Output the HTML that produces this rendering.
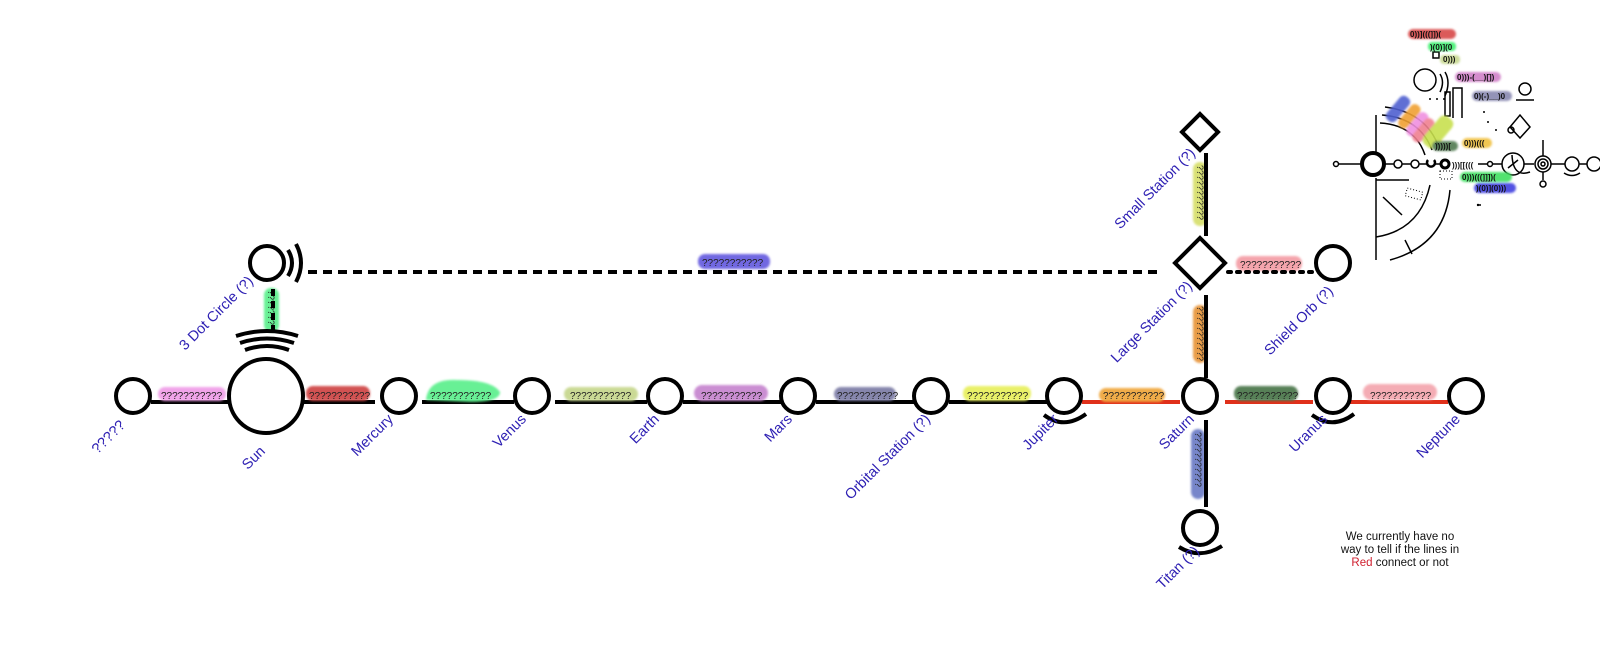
<!DOCTYPE html>
<html><head><meta charset="utf-8"><style>
html,body{margin:0;padding:0;background:#fff;}
svg{display:block;}
.lb{font-family:"Liberation Sans",sans-serif;font-size:14.5px;fill:#2d1fb3;}
.q{font-family:"Liberation Sans",sans-serif;font-size:10px;fill:#222;}
.g{font-family:"Liberation Sans",sans-serif;font-size:8px;fill:#111;font-weight:bold;}
</style></head><body>
<svg width="1600" height="660" viewBox="0 0 1600 660" xmlns="http://www.w3.org/2000/svg">
<defs><filter id="bl"><feGaussianBlur stdDeviation="1"/></filter></defs>
<g fill="none" stroke="#000" stroke-width="4" stroke-linecap="butt">
<line x1="151" y1="402" x2="229" y2="402"/>
<line x1="303" y1="402" x2="375" y2="402"/>
<line x1="422" y1="402" x2="514" y2="402"/>
<line x1="555" y1="402" x2="647" y2="402"/>
<line x1="683" y1="402" x2="781" y2="402"/>
<line x1="816" y1="402" x2="914" y2="402"/>
<line x1="949" y1="402" x2="1047" y2="402"/>
</g>
<g fill="none" stroke="#e0301a" stroke-width="4">
<line x1="1082" y1="402" x2="1180" y2="402"/>
<line x1="1225" y1="402" x2="1313" y2="402"/>
<line x1="1350" y1="402" x2="1448" y2="402"/>
</g>
<g filter="url(#bl)" opacity="0.95">
<rect x="158" y="387" width="68" height="14" rx="7" fill="#f0a0e8"/>
<rect x="306" y="386" width="64" height="15" rx="7" fill="#d04848"/>
<path d="M426 400 Q428 378 458 380 Q492 380 500 392 Q500 402 470 402 Z" fill="#60f090"/>
<rect x="564" y="387" width="74" height="14" rx="7" fill="#c8d890"/>
<rect x="694" y="385" width="74" height="16" rx="8" fill="#c888d0"/>
<rect x="834" y="387" width="62" height="14" rx="7" fill="#8080a8"/>
<rect x="963" y="386" width="68" height="15" rx="7" fill="#e8f060"/>
<rect x="1099" y="388" width="66" height="14" rx="7" fill="#f0a840"/>
<rect x="1234" y="386" width="64" height="15" rx="7" fill="#507a50"/>
<rect x="1363" y="384" width="74" height="16" rx="8" fill="#f4a8b0"/>
<rect x="698" y="254" width="72" height="15" rx="7" fill="#6a60e0"/>
<rect x="1236" y="256" width="66" height="15" rx="7" fill="#f4a0a8"/>
<rect x="264" y="288" width="15" height="44" rx="7" fill="#60f090"/>
<rect x="1193" y="162" width="14" height="64" rx="7" fill="#d8e070"/>
<rect x="1193" y="305" width="14" height="58" rx="7" fill="#e89840"/>
<rect x="1191" y="429" width="14" height="70" rx="7" fill="#7080c8"/>
</g>
<g class="q">
<text x="161" y="399">???????????</text>
<text x="309" y="399">???????????</text>
<text x="430" y="399">???????????</text>
<text x="570" y="399">???????????</text>
<text x="701" y="399">???????????</text>
<text x="837" y="399">???????????</text>
<text x="967" y="399">???????????</text>
<text x="1103" y="399">???????????</text>
<text x="1237" y="399">???????????</text>
<text x="1370" y="399">???????????</text>
<text x="702" y="266">???????????</text>
<text x="1240" y="268">???????????</text>
<text transform="translate(268,290) rotate(90)" font-size="9">???????</text>
<text transform="translate(1197,165) rotate(90)" font-size="9">???????????</text>
<text transform="translate(1197,306) rotate(90)" font-size="9">???????????</text>
<text transform="translate(1195,432) rotate(90)" font-size="9">???????????</text>
</g>
<g fill="#fff" stroke="#000" stroke-width="4">
<circle cx="133" cy="396" r="17"/>
<circle cx="266" cy="396" r="37"/>
<circle cx="399" cy="396" r="17"/>
<circle cx="532" cy="396" r="17"/>
<circle cx="665" cy="396" r="17"/>
<circle cx="798" cy="396" r="17"/>
<circle cx="931" cy="396" r="17"/>
<circle cx="1064" cy="396" r="17"/>
<circle cx="1200" cy="396" r="17"/>
<circle cx="1333" cy="396" r="17"/>
<circle cx="1466" cy="396" r="17"/>
<circle cx="267" cy="263" r="17"/>
<circle cx="1333" cy="263" r="17"/>
<circle cx="1200" cy="528" r="17"/>
<polygon points="1200,238 1225,263 1200,288 1175,263"/>
<polygon points="1200,114 1218,132 1200,150 1182,132"/>
</g>
<g fill="none" stroke="#000" stroke-width="4">
<path d="M1044 415 Q1064 430 1086 414"/>
<path d="M1312 415 Q1333 430 1354 414"/>
<path d="M1179 547 Q1200 560 1222 546"/>
<path d="M288 250 Q296 263 288 276"/>
<path d="M296 244 Q306 263 296 282"/>
<path d="M236 336 Q267 326 298 336"/>
<path d="M240 343 Q267 334 294 343"/>
<path d="M245 350 Q267 342 289 350"/>
<line x1="1206" y1="153" x2="1206" y2="236"/>
<line x1="1206" y1="295" x2="1206" y2="378"/>
<line x1="1206" y1="420" x2="1206" y2="507"/>
<line x1="308" y1="272" x2="1162" y2="272" stroke-dasharray="9,6"/>
<line x1="273" y1="289" x2="273" y2="331" stroke-dasharray="7,5"/>
<line x1="1228" y1="272" x2="1313" y2="272" stroke-dasharray="3,6" stroke-linecap="round"/>
</g>
<g class="lb" text-anchor="end">
<text transform="translate(126,426) rotate(-45)">?????</text>
<text transform="translate(266,452) rotate(-45)">Sun</text>
<text transform="translate(394,420) rotate(-45)">Mercury</text>
<text transform="translate(527,420) rotate(-45)">Venus</text>
<text transform="translate(660,420) rotate(-45)">Earth</text>
<text transform="translate(793,420) rotate(-45)">Mars</text>
<text transform="translate(931,420) rotate(-45)">Orbital Station (?)</text>
<text transform="translate(1059,420) rotate(-45)">Jupiter</text>
<text transform="translate(1195,420) rotate(-45)">Saturn</text>
<text transform="translate(1328,420) rotate(-45)">Uranus</text>
<text transform="translate(1461,420) rotate(-45)">Neptune</text>
<text transform="translate(254,282) rotate(-45)">3 Dot Circle (?)</text>
<text transform="translate(1196,154) rotate(-45)">Small Station (?)</text>
<text transform="translate(1193,287) rotate(-45)">Large Station (?)</text>
<text transform="translate(1334,292) rotate(-45)">Shield Orb (?)</text>
<text transform="translate(1200,552) rotate(-45)">Titan (?)</text>
</g>
<g font-family="Liberation Sans, sans-serif" font-size="11.5" text-anchor="middle" fill="#111">
<text x="1400" y="540">We currently have no</text>
<text x="1400" y="553">way to tell if the lines in</text>
<text x="1400" y="566"><tspan fill="#d02030">Red</tspan> connect or not</text>
</g>
<g fill="none" stroke="#000" stroke-width="1.5">
<line x1="1339" y1="164" x2="1361" y2="164"/>
<circle cx="1336" cy="164" r="2.5"/>
<circle cx="1373" cy="164" r="11" stroke-width="4"/>
<line x1="1385" y1="164" x2="1394" y2="164"/>
<circle cx="1398" cy="164" r="4"/>
<line x1="1402" y1="164" x2="1411" y2="164"/>
<circle cx="1415" cy="164" r="4"/>
<line x1="1419" y1="164" x2="1427" y2="164"/>
<path d="M1428 160 a4 4 0 1 0 6 0" stroke-width="2.5"/>
<line x1="1435" y1="164" x2="1441" y2="164"/>
<circle cx="1445" cy="164" r="4" stroke-width="3"/>
<line x1="1478" y1="164" x2="1487" y2="164"/>
<circle cx="1490" cy="164" r="2.5"/>
<line x1="1493" y1="164" x2="1502" y2="164"/>
<circle cx="1513" cy="164" r="11"/>
<line x1="1508" y1="168" x2="1518" y2="160"/>
<line x1="1524" y1="164" x2="1534" y2="164"/>
<circle cx="1543" cy="164" r="8"/>
<circle cx="1543" cy="164" r="5"/>
<circle cx="1543" cy="164" r="2"/>
<line x1="1551" y1="164" x2="1565" y2="164"/>
<circle cx="1572" cy="164" r="7"/>
<path d="M1564 173 Q1572 178 1580 173"/>
<line x1="1579" y1="164" x2="1587" y2="164"/>
<circle cx="1594" cy="164" r="7"/>
<line x1="1543" y1="172" x2="1543" y2="180"/>
<circle cx="1543" cy="184" r="3"/>
<line x1="1543" y1="140" x2="1543" y2="156"/>
<line x1="1376" y1="115" x2="1376" y2="152"/>
<line x1="1376" y1="178" x2="1376" y2="260"/>
<path d="M1376 180 L1409 180"/>
<path d="M1376 237 Q1420 230 1430 185"/>
<path d="M1390 260 Q1445 245 1450 190"/>
<line x1="1383" y1="197" x2="1402" y2="215"/>
<line x1="1405" y1="240" x2="1412" y2="254"/>
<path d="M1380 123 Q1415 125 1425 155"/>
<path d="M1382 115 Q1420 118 1432 150"/>
<path d="M1385 107 Q1425 112 1438 145"/>
<circle cx="1425" cy="80" r="11"/>
<rect x="1433" y="52" width="6" height="6"/>
<path d="M1440 74 Q1445 82 1440 92"/>
<path d="M1445 72 Q1451 82 1445 96"/>
<rect x="1445" y="92" width="5" height="24"/>
<path d="M1453 118 L1453 88 L1462 88 L1462 118"/>
<circle cx="1525" cy="89" r="6"/>
<line x1="1516" y1="100" x2="1534" y2="100"/>
<path d="M1510 127 L1520 115 L1530 127 L1520 138 Z"/>
<circle cx="1511" cy="130" r="3"/>
<path d="M1512 155 Q1513 178 1530 172"/>
</g>
<g filter="url(#bl)" opacity="0.9">
<rect x="1408" y="29" width="48" height="10" rx="5" fill="#d84848"/>
<rect x="1428" y="42" width="28" height="9" rx="4" fill="#40f070"/>
<rect x="1440" y="55" width="20" height="9" rx="4" fill="#c8d890"/>
<rect x="1455" y="72" width="46" height="10" rx="5" fill="#d080c8"/>
<rect x="1472" y="91" width="40" height="10" rx="5" fill="#8888b0"/>
<rect x="1392" y="94" width="12" height="30" rx="5" fill="#5060d0" transform="rotate(40 1398 109)"/>
<rect x="1404" y="102" width="11" height="28" rx="5" fill="#f0a030" transform="rotate(40 1409 116)"/>
<rect x="1412" y="110" width="11" height="28" rx="5" fill="#f090e0" transform="rotate(40 1417 124)"/>
<rect x="1418" y="116" width="11" height="28" rx="5" fill="#f08090" transform="rotate(40 1423 130)"/>
<rect x="1430" y="114" width="16" height="36" rx="6" fill="#c8e050" transform="rotate(40 1438 132)"/>
<rect x="1432" y="141" width="26" height="10" rx="5" fill="#507a50"/>
<rect x="1462" y="138" width="30" height="10" rx="5" fill="#f0c040"/>
<rect x="1460" y="172" width="52" height="10" rx="5" fill="#40e060"/>
<rect x="1474" y="183" width="42" height="10" rx="5" fill="#4040e0"/>
</g>
<g class="g">
<text x="1410" y="37">0))](((]])(</text>
<text x="1430" y="50">)(0)](0</text>
<text x="1443" y="62">0)))</text>
<text x="1457" y="80">0)))-(__)[])</text>
<text x="1474" y="99">0)(-)__)0</text>
<text x="1435" y="149">)))))[</text>
<text x="1464" y="146">0)))(((</text>
<text x="1452" y="168">)))[[(((</text>
<text x="1462" y="180">0)))(((]]])(</text>
<text x="1476" y="191">)(0)](0)))</text>
</g>
<g fill="#000">
<circle cx="1430" cy="99" r="1"/><circle cx="1437" cy="99" r="1"/><circle cx="1444" cy="99" r="1"/>
<circle cx="1484" cy="112" r="1"/><circle cx="1488" cy="122" r="1"/><circle cx="1496" cy="130" r="1"/>
<circle cx="1478" cy="205" r="1.2"/><circle cx="1480" cy="205" r="1"/>
<rect x="1440" y="171" width="12" height="8" fill="none" stroke="#000" stroke-dasharray="1,2"/>
<rect x="1406" y="190" width="16" height="8" fill="none" stroke="#000" stroke-dasharray="1,2" transform="rotate(15 1414 194)"/>
</g>
</svg>
</body></html>
